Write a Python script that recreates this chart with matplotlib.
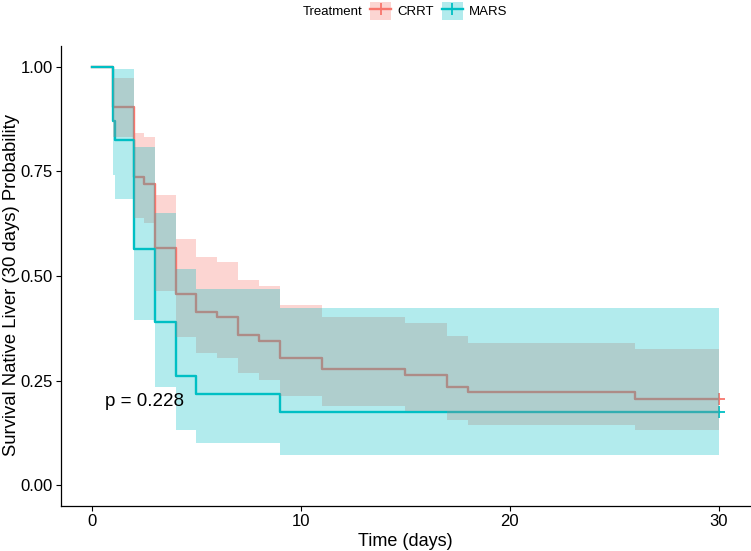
import matplotlib
matplotlib.use("Agg")
import matplotlib.pyplot as plt
from matplotlib.patches import Patch
from matplotlib.lines import Line2D

plt.rcParams['font.family'] = ['Liberation Sans', 'DejaVu Sans']

# ---- data ----
crrt_time = [0, 1, 2, 2.5, 3, 4, 5, 6, 7, 8, 9, 11, 15, 17, 18, 26, 30]
crrt_surv = [1, 0.903, 0.736, 0.720, 0.568, 0.457, 0.415, 0.401, 0.360, 0.345,
             0.305, 0.277, 0.264, 0.235, 0.222, 0.207, 0.207]
crrt_lower = [1, 0.833, 0.638, 0.626, 0.465, 0.355, 0.315, 0.305, 0.267, 0.252,
              0.213, 0.189, 0.178, 0.156, 0.144, 0.132, 0.132]
crrt_upper = [1, 0.973, 0.843, 0.832, 0.694, 0.588, 0.546, 0.533, 0.490, 0.476,
              0.431, 0.402, 0.387, 0.356, 0.340, 0.325, 0.325]

mars_time = [0, 1, 1.1, 2, 3, 4, 5, 9, 30]
mars_surv = [1, 0.870, 0.826, 0.565, 0.391, 0.261, 0.217, 0.174, 0.174]
mars_lower = [1, 0.742, 0.684, 0.395, 0.235, 0.132, 0.100, 0.072, 0.072]
mars_upper = [1, 0.995, 0.995, 0.809, 0.650, 0.517, 0.470, 0.423, 0.423]

groups = ["CRRT", "MARS"]
colors = {"CRRT": "#F8766D", "MARS": "#00BFC4"}
pval_text = "p = 0.228"
xticks = [0, 10, 20, 30]
yticks = [0.00, 0.25, 0.50, 0.75, 1.00]

series = {
    "CRRT": (crrt_time, crrt_surv, crrt_lower, crrt_upper),
    "MARS": (mars_time, mars_surv, mars_lower, mars_upper),
}

fig = plt.figure(figsize=(7.51, 5.51), dpi=100)
ax = fig.add_axes([60.65 / 751, 1 - 506 / 551, (750 - 60.65) / 751, (506 - 46) / 551])

# lines first
for g in groups:
    t, s, lo, up = series[g]
    ax.step(t, s, where='post', color=colors[g], lw=1.7, zorder=2)
    ax.plot([t[-1]], [s[-1]], marker='+', ms=8, mew=1.3, color=colors[g],
            linestyle='none', zorder=2)
# ribbons on top
for g in groups:
    t, s, lo, up = series[g]
    ax.fill_between(t, lo, up, step='post', color=colors[g], alpha=0.3,
                    linewidth=0, zorder=3)

ax.text(0.6, 0.2, pval_text, ha='left', va='center', fontsize=13.5, color='black')

ax.set_xlim(-1.5, 31.5)
ax.set_ylim(-0.05, 1.05)
ax.set_xticks(xticks)
ax.set_xticklabels([str(x) for x in xticks])
ax.set_yticks(yticks)
ax.set_yticklabels([f"{y:.2f}" for y in yticks])
ax.tick_params(axis='both', labelsize=12, length=3.5, width=0.8, color='black',
               labelcolor='black', pad=2)
for side in ['top', 'right']:
    ax.spines[side].set_visible(False)
for side in ['left', 'bottom']:
    ax.spines[side].set_linewidth(0.9)
    ax.spines[side].set_color('black')

ax.set_xlabel("Time (days)", fontsize=13, labelpad=3)
ax.set_ylabel("Survival Native Liver (30 days) Probability", fontsize=13.3)
ax.yaxis.set_label_coords((20.5 - 60.65) / 689.35, (506 - 285) / 460)

# legend
handles = []
for g in groups:
    handles.append((Patch(facecolor=colors[g], alpha=0.3, linewidth=0),
                    Line2D([], [], color=colors[g], lw=1.7, marker='+', ms=8, mew=1.3)))
fig.legend(handles, groups, loc='center', bbox_to_anchor=(439 / 751, 1 - 11 / 551),
           ncol=2, frameon=False, fontsize=9.5, handlelength=1.57, handleheight=1.64,
           handletextpad=0.5, columnspacing=0.6, borderpad=0, numpoints=1)
fig.text(303 / 751, 1 - 12 / 551, "Treatment", ha='left', va='center', fontsize=9.5)

fig.savefig("out.png", dpi=100)
